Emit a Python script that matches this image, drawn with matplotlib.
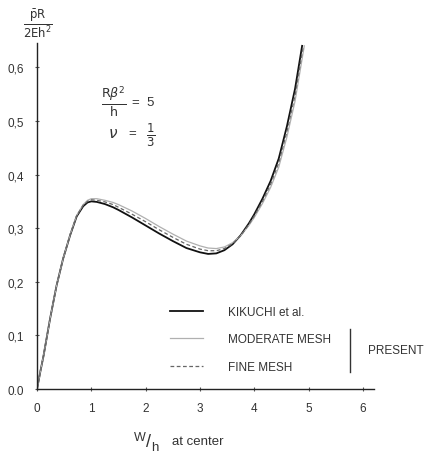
import matplotlib
matplotlib.use('Agg')
import matplotlib.pyplot as plt
from matplotlib.lines import Line2D

# W/h at center vs. load parameter
x_kikuchi = [0, 0.06, 0.12, 0.24, 0.36, 0.48, 0.61, 0.73, 0.85, 0.93, 1.0, 1.1, 1.25, 1.4, 1.5,
             1.75, 2.0, 2.25, 2.5, 2.75, 3.0, 3.15, 3.3, 3.45, 3.6, 3.75, 3.9, 4.0, 4.15,
             4.3, 4.45, 4.6, 4.75, 4.88]
y_kikuchi = [0, 0.032, 0.062, 0.131, 0.193, 0.243, 0.287, 0.322, 0.341, 0.348, 0.35, 0.349, 0.345,
             0.339, 0.334, 0.32, 0.305, 0.29, 0.276, 0.263, 0.255, 0.252, 0.253, 0.259, 0.27,
             0.287, 0.309, 0.326, 0.355, 0.388, 0.43, 0.49, 0.56, 0.64]

x_moderate = [0, 0.06, 0.12, 0.24, 0.36, 0.48, 0.61, 0.73, 0.85, 0.93, 1.0, 1.1, 1.25, 1.4, 1.5,
              1.75, 2.0, 2.25, 2.5, 2.75, 3.0, 3.15, 3.3, 3.45, 3.6, 3.75, 3.9, 4.0, 4.15,
              4.3, 4.45, 4.6, 4.75, 4.92]
y_moderate = [0, 0.032, 0.062, 0.131, 0.193, 0.243, 0.288, 0.324, 0.344, 0.352, 0.355, 0.355, 0.352,
              0.348, 0.344, 0.332, 0.318, 0.303, 0.289, 0.276, 0.267, 0.263, 0.262, 0.265, 0.273,
              0.286, 0.305, 0.32, 0.346, 0.376, 0.414, 0.47, 0.537, 0.64]

x_fine = [0, 0.06, 0.12, 0.24, 0.36, 0.48, 0.61, 0.73, 0.85, 0.93, 1.0, 1.1, 1.25, 1.4, 1.5,
          1.75, 2.0, 2.25, 2.5, 2.75, 3.0, 3.15, 3.3, 3.45, 3.6, 3.75, 3.9, 4.0, 4.15,
          4.3, 4.45, 4.6, 4.75, 4.9]
y_fine = [0, 0.032, 0.062, 0.131, 0.193, 0.243, 0.288, 0.323, 0.343, 0.35, 0.353, 0.352, 0.349,
          0.344, 0.339, 0.326, 0.312, 0.297, 0.283, 0.27, 0.261, 0.258, 0.258, 0.262, 0.271,
          0.286, 0.307, 0.323, 0.35, 0.382, 0.422, 0.48, 0.548, 0.64]

xticks = [0, 1, 2, 3, 4, 5, 6]
yticks = [0.0, 0.1, 0.2, 0.3, 0.4, 0.5, 0.6]
ytick_labels = ['0.0', '0,1', '0,2', '0,3', '0,4', '0,5', '0,6']

plt.rcParams['font.family'] = ['Liberation Sans', 'DejaVu Sans']
plt.rcParams['mathtext.fontset'] = 'dejavusans'
txt = '#333333'

fig = plt.figure(figsize=(4.38, 4.6), dpi=100)
ax = fig.add_axes([0.0845, 0.152, 0.769, 0.752])

ax.plot(x_kikuchi, y_kikuchi, color='#111111', lw=1.3, label='KIKUCHI et al.')
ax.plot(x_moderate, y_moderate, color='#b0b0b0', lw=0.9, label='MODERATE MESH')
ax.plot(x_fine, y_fine, color='#666666', lw=0.9, ls=(0, (3, 2)), label='FINE MESH')

ax.set_xlim(0, 6.2)
ax.set_ylim(0, 0.645)
for s in ['top', 'right']:
    ax.spines[s].set_visible(False)
for s in ['left', 'bottom']:
    ax.spines[s].set_color('#222222')
    ax.spines[s].set_linewidth(1.0)

ax.set_xticks(xticks)
ax.set_xticklabels([str(t) for t in xticks])
ax.set_yticks(yticks)
ax.set_yticklabels(ytick_labels)
ax.tick_params(direction='inout', length=3, width=0.8, colors='#555555',
               labelcolor=txt, labelsize=8.5)
ax.tick_params(axis='x', pad=8)
ax.tick_params(axis='y', pad=8)

# axis titles
fig.text(0.087, 0.948, r'$\frac{\bar{\mathrm{p}}\mathrm{R}}{\mathrm{2Eh}^2}$', fontsize=12,
         color=txt, ha='center', va='center')
fig.text(140 / 438, 1 - 438 / 460, 'W', fontsize=9, color=txt, ha='center', va='center')
fig.text(149 / 438, 1 - 443 / 460, '/', fontsize=13, color=txt, ha='center', va='center')
fig.text(155 / 438, 1 - 448 / 460, 'h', fontsize=9.5, color=txt, ha='center', va='center')
fig.text(172 / 438, 1 - 442 / 460, 'at center', fontsize=9.5, color=txt,
         ha='left', va='center')

# parameters
ax.text(1.17, 0.538, r'$\frac{\mathrm{R}\beta^2}{\mathrm{h}}$', fontsize=13, color=txt,
        ha='left', va='center')
ax.text(1.75, 0.535, '=  5', fontsize=9.5, color=txt, ha='left', va='center')
ax.text(1.3, 0.478, r'$\nu$', fontsize=11, color=txt, ha='left', va='center')
ax.text(1.68, 0.478, '=', fontsize=9.5, color=txt, ha='left', va='center')
ax.text(2.0, 0.476, r'$\frac{\mathrm{1}}{\mathrm{3}}$', fontsize=12, color=txt,
        ha='left', va='center')

leg = ax.legend(loc='upper left', bbox_to_anchor=(170 / 438, 1 - 307 / 460),
                bbox_transform=fig.transFigure, frameon=False, fontsize=8.5,
                handlelength=2.8, handletextpad=2.1, labelspacing=1.3,
                borderpad=0, borderaxespad=0)
for t in leg.get_texts():
    t.set_color(txt)

# bracket for PRESENT
bx = 350 / 438
y0, y1 = 1 - 330 / 460, 1 - 373 / 460
fig.add_artist(Line2D([bx, bx], [y0, y1], color='#333333', lw=1.0))
fig.text(368 / 438, 1 - 351 / 460, 'PRESENT', fontsize=8.5, color=txt,
         ha='left', va='center')

fig.savefig('out.png', dpi=100, facecolor='white')
